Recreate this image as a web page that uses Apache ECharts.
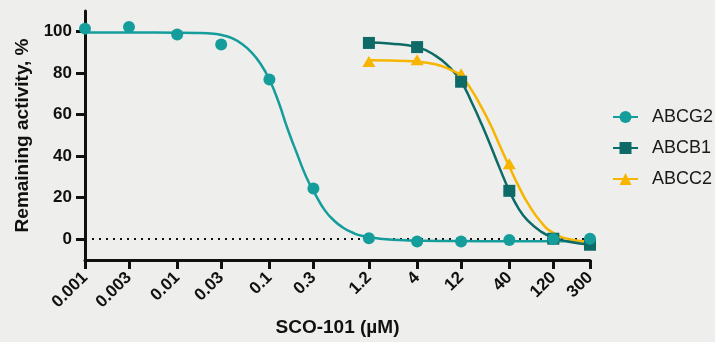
<!DOCTYPE html>
<html>
<head>
<meta charset="utf-8">
<script src="https://cdn.jsdelivr.net/npm/echarts@6/dist/echarts.min.js"></script>
<style>
html,body{margin:0;padding:0;background:#eeeeec;}
#c{width:715px;height:342px;}
</style>
</head>
<body>
<div id="c"></div>
<script>
// ---- data (concentrations in µM, activity in %) ----
const xTickValues = [0.001, 0.003, 0.01, 0.03, 0.1, 0.3, 1.2, 4, 12, 40, 120, 300];
const xTickLabels = ['0.001', '0.003', '0.01', '0.03', '0.1', '0.3', '1.2', '4', '12', '40', '120', '300'];
const yTickValues = [0, 20, 40, 60, 80, 100];

const seriesNames = ['ABCG2', 'ABCB1', 'ABCC2'];

const abcg2Conc = [0.001, 0.003, 0.01, 0.03, 0.1, 0.3, 1.2, 4, 12, 40, 120, 300];
const abcg2Vals = [101.5, 102.3, 98.7, 93.8, 77, 24.4, 0.4, -1.1, -1.1, -0.4, 0.1, 0.2];

const abcb1Conc = [1.2, 4, 12, 40, 120, 300];
const abcb1Vals = [94.6, 92.6, 75.9, 23.3, 0.2, -2.7];

const abcc2Conc = [1.2, 4, 12, 40, 120, 300];
const abcc2Vals = [85.7, 86.5, 79.8, 36.4, 0.5, -1.0];

// fitted curves
const abcg2CurveConc = [0.001, 0.00316, 0.01, 0.0158, 0.0251, 0.0316, 0.0398, 0.0501, 0.0631, 0.0794, 0.1, 0.126, 0.158, 0.2, 0.251, 0.316, 0.398, 0.501, 0.631, 0.794, 1, 1.58, 3.16, 10, 40, 300];
const abcg2CurveVals = [99.6, 99.6, 99.5, 99.4, 99.0, 98.2, 96.8, 94.2, 90.3, 84.8, 77, 66, 53, 41, 30, 21.5, 14, 9, 5.5, 3.2, 1.6, 0.2, -0.6, -0.9, -1, -1];

const abcb1CurveConc = [1.2, 2, 4, 6.31, 8.91, 12, 15.8, 20, 25.1, 31.6, 40, 50.1, 63.1, 89.1, 120, 178, 300];
const abcb1CurveVals = [94.8, 94.3, 92.6, 88.5, 83, 76, 65.5, 55.5, 45, 34, 23.3, 15, 9, 3.5, 0.8, -1.3, -2.6];

const abcc2CurveConc = [1.2, 2, 4, 6.31, 8.91, 12, 15.8, 20, 25.1, 31.6, 40, 50.1, 63.1, 89.1, 120, 178, 300];
const abcc2CurveVals = [86.2, 86.1, 85.6, 84.3, 82, 78.6, 71.5, 63.5, 55, 45, 35, 25.8, 17.5, 8, 3, 0, -1.1];

const colors = {ABCG2: '#149d9b', ABCB1: '#0d6a66', ABCC2: '#f7b500'};

// ---- build ----
const lg = v => Math.log10(v);
const pairs = (xs, ys) => xs.map((x, i) => [lg(x), ys[i]]);
const FONT = '"Liberation Sans", Arial, sans-serif';

const chart = echarts.init(document.getElementById('c'), null, {renderer: 'canvas'});

function curveSeries(name, xs, ys, symbol, extra) {
  return Object.assign({
    name: name,
    type: 'line',
    data: pairs(xs, ys),
    smooth: 0.5,
    symbol: symbol,
    symbolSize: 12,
    showSymbol: false,
    lineStyle: {color: colors[name], width: 2.5},
    itemStyle: {color: colors[name]},
    silent: true,
    z: 2
  }, extra || {});
}
function pointSeries(name, xs, ys, symbol, size, z) {
  return {
    name: name,
    type: 'scatter',
    data: pairs(xs, ys),
    symbol: symbol,
    symbolSize: size,
    itemStyle: {color: colors[name], opacity: 1},
    z: z
  };
}

const option = {
  backgroundColor: '#eeeeec',
  animation: false,
  grid: {left: 85, right: 125, top: 11, bottom: 79, containLabel: false},
  legend: {
    data: seriesNames,
    orient: 'vertical',
    left: 612,
    top: 107,
    padding: 0,
    itemWidth: 25,
    itemHeight: 15,
    itemGap: 11,
    textStyle: {fontFamily: FONT, fontSize: 18, color: '#1a1a1a', lineHeight: 20, padding: [0, 0, 0, 9]}
  },
  xAxis: {
    type: 'value',
    min: lg(xTickValues[0]),
    max: lg(xTickValues[xTickValues.length - 1]),
    name: 'SCO-101 (µM)',
    nameLocation: 'middle',
    nameGap: 55,
    nameTextStyle: {fontFamily: FONT, fontSize: 19, fontWeight: 'bold', color: '#111'},
    axisLine: {show: true, onZero: false, lineStyle: {color: '#111', width: 3}},
    axisTick: {show: true, length: 9, lineStyle: {color: '#111', width: 3}, customValues: xTickValues.map(lg)},
    axisLabel: {
      customValues: xTickValues.map(lg),
      rotate: 45,
      margin: 15,
      fontFamily: FONT, fontSize: 17, fontWeight: 'bold', color: '#111',
      formatter: function (v) {
        for (let i = 0; i < xTickValues.length; i++) {
          if (Math.abs(lg(xTickValues[i]) - v) < 1e-6) return xTickLabels[i];
        }
        return '';
      }
    },
    splitLine: {show: false}
  },
  yAxis: {
    type: 'value',
    min: -10,
    max: 110,
    name: 'Remaining activity, %',
    nameLocation: 'middle',
    nameGap: 47,
    nameTextStyle: {fontFamily: FONT, fontSize: 19, fontWeight: 'bold', color: '#111'},
    axisLine: {show: true, onZero: false, lineStyle: {color: '#111', width: 3}},
    axisTick: {show: true, length: 9, lineStyle: {color: '#111', width: 3}, customValues: yTickValues},
    axisLabel: {customValues: yTickValues, margin: 13, fontFamily: FONT, fontSize: 17, fontWeight: 'bold', color: '#111'},
    splitLine: {show: false}
  },
  series: [
    curveSeries('ABCG2', abcg2CurveConc, abcg2CurveVals, 'circle', {
      markLine: {
        silent: true,
        symbol: 'none',
        label: {show: false},
        lineStyle: {color: '#111', type: [2, 5], width: 2},
        data: [{yAxis: 0}],
        z: 1
      }
    }),
    curveSeries('ABCB1', abcb1CurveConc, abcb1CurveVals, 'rect'),
    curveSeries('ABCC2', abcc2CurveConc, abcc2CurveVals, 'triangle'),
    pointSeries('ABCC2', abcc2Conc, abcc2Vals, 'triangle', [13, 11], 3),
    pointSeries('ABCB1', abcb1Conc, abcb1Vals, 'rect', 12, 4),
    pointSeries('ABCG2', abcg2Conc, abcg2Vals, 'circle', 12, 5)
  ]
};
chart.setOption(option);
</script>
</body>
</html>
